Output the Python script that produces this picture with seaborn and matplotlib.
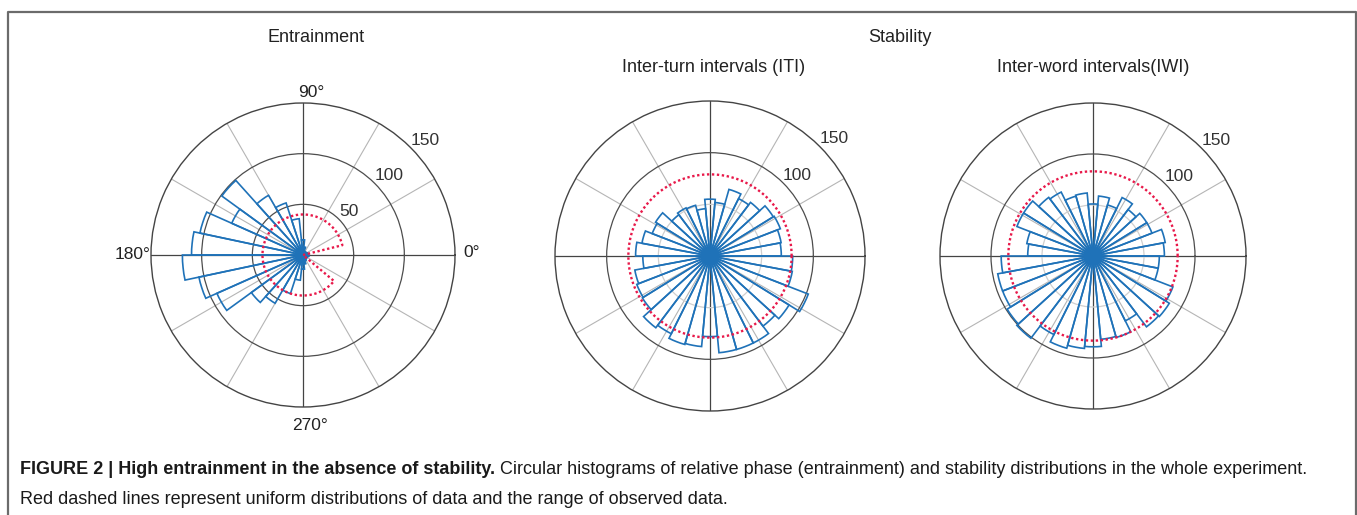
import numpy as np
import matplotlib
matplotlib.use("Agg")
import matplotlib.pyplot as plt
import seaborn as sns
from matplotlib.lines import Line2D

# counts per bin (bins start at 0 deg, counter-clockwise)
# entrainment: 30 bins of 12 deg
ent_counts = [5, 5, 4, 3, 3, 4, 8, 15, 36, 54, 68, 99, 77, 104, 110,
              119, 105, 93, 63, 55, 40, 25, 14, 9, 6, 5, 4, 4, 5, 6]
ent_uniform = 40
ent_range = (14, 320)   # observed range of relative phase, degrees

# stability: 34 bins each
iti_counts = [69, 70, 73, 72, 65, 62, 67, 52, 55, 46, 51, 52, 50, 62, 60, 67, 72,
              65, 74, 76, 77, 87, 84, 89, 88, 78, 94, 94, 94, 85, 90, 102, 81, 80]
iti_uniform = 79
iwi_counts = [70, 72, 62, 62, 57, 64, 52, 59, 51, 62, 61, 70, 72, 80, 80, 66, 64,
              90, 95, 95, 99, 101, 86, 94, 91, 89, 82, 83, 71, 87, 88, 84, 65, 65]
iwi_uniform = 83

r_ticks = [50, 100, 150]
theta_ticks = [0, 30, 60, 90, 120, 150, 180, 210, 240, 270, 300, 330]
# angle labels and their offsets (pixels) from the outer circle
angle_labels = {0: ("0°", 17, 3), 90: ("90°", 8, 11), 180: ("180°", -18, 1), 270: ("270°", 7, -18)}

titles = ["Entrainment", "Inter-turn intervals (ITI)", "Inter-word intervals(IWI)"]
group_title = "Stability"
caption_bold = "FIGURE 2 | High entrainment in the absence of stability."
caption_rest = (" Circular histograms of relative phase (entrainment) and stability "
                "distributions in the whole experiment.")
caption_line2 = "Red dashed lines represent uniform distributions of data and the range of observed data."

sns.set_style("white")
plt.rcParams["font.family"] = ["Liberation Sans", "DejaVu Sans"]

blue = "#1f72b8"
red = "#e8194a"
W, H = 1357, 515

fig = plt.figure(figsize=(W / 100, H / 100), dpi=100)


def rose(rect, counts, uniform, rng=None, show_angles=False, label_ticks=(50, 100, 150),
         ring50="#4d4d4d", dot=6):
    ax = fig.add_axes(rect, projection="polar")
    n = len(counts)
    width = 2 * np.pi / n
    theta = np.arange(n) * width + width / 2
    ax.set_ylim(0, 150)
    ax.set_thetagrids(theta_ticks, [""] * len(theta_ticks))
    ax.set_rgrids(r_ticks, [""] * len(r_ticks))
    ax.grid(False)
    # spokes and rings
    for a in theta_ticks:
        main = a % 90 == 0
        ax.axvline(np.deg2rad(a), color="#444444" if main else "#b5b5b5",
                   lw=0.9 if main else 0.8, zorder=1)
    ax.axhline(50, color=ring50, lw=0.9, zorder=1)
    ax.axhline(100, color="#4d4d4d", lw=0.9, zorder=1)
    ax.spines["polar"].set_color("#444444")
    ax.spines["polar"].set_linewidth(1.0)
    for t in label_ticks:
        ax.text(np.deg2rad(45), t, str(t), ha="left", va="bottom", fontsize=12.5,
                color="#333333", zorder=5)
    if show_angles:
        for a, (lab, dx, dy) in angle_labels.items():
            ax.annotate(lab, xy=(np.deg2rad(a), 150), xytext=(dx, dy),
                        textcoords="offset pixels", ha="center", va="center",
                        fontsize=12.5, color="#222222", annotation_clip=False)
    ax.bar(theta, counts, width=width, fill=False, edgecolor=blue, linewidth=1.2, zorder=3)
    ax.plot([0], [0], "o", color=blue, ms=dot, zorder=4)
    if rng is None:
        th = np.linspace(0, 2 * np.pi, 400)
        r = np.full_like(th, uniform)
    else:
        arc = np.deg2rad(np.linspace(rng[0], rng[1], 300))
        th = np.concatenate([[arc[0]], arc, [arc[-1]]])
        r = np.concatenate([[0], np.full_like(arc, uniform), [0]])
    ax.plot(th, r, color=red, lw=1.7, ls=(0, (1, 1.1)), zorder=4)
    return ax


rose([151 / W, 1 - 407 / H, 304 / W, 304 / H], ent_counts, ent_uniform, rng=ent_range,
     show_angles=True)
rose([555 / W, 1 - 411 / H, 310 / W, 310 / H], iti_counts, iti_uniform,
     label_ticks=(100, 150), ring50="#cfcfcf", dot=7)
rose([940 / W, 1 - 409 / H, 306 / W, 306 / H], iwi_counts, iwi_uniform,
     label_ticks=(100, 150), ring50="#cfcfcf", dot=7)

fig.text(316 / W, 1 - 37 / H, titles[0], ha="center", va="center", fontsize=13, color="#222222")
fig.text(900 / W, 1 - 37 / H, group_title, ha="center", va="center", fontsize=13, color="#222222")
fig.text(714 / W, 1 - 68 / H, titles[1], ha="center", va="center", fontsize=13, color="#222222")
fig.text(1093 / W, 1 - 68 / H, titles[2], ha="center", va="center", fontsize=13, color="#222222")

# frame around the figure panel
fig.add_artist(Line2D([7.5 / W, 7.5 / W, 1355.5 / W, 1355.5 / W], [0, 1 - 12 / H, 1 - 12 / H, 0],
                      transform=fig.transFigure, color="#6b6b6b", lw=1.6))

# caption
renderer = fig.canvas.get_renderer()
t1 = fig.text(20 / W, 1 - 470 / H, caption_bold, ha="left", va="center", fontsize=13,
              weight="bold", color="#1a1a1a")
bb = t1.get_window_extent(renderer)
fig.text(bb.x1 / W, 1 - 470 / H, caption_rest, ha="left", va="center", fontsize=13,
         color="#1a1a1a")
fig.text(20 / W, 1 - 500 / H, caption_line2, ha="left", va="center", fontsize=13,
         color="#1a1a1a")

fig.savefig("out.png", dpi=100)
